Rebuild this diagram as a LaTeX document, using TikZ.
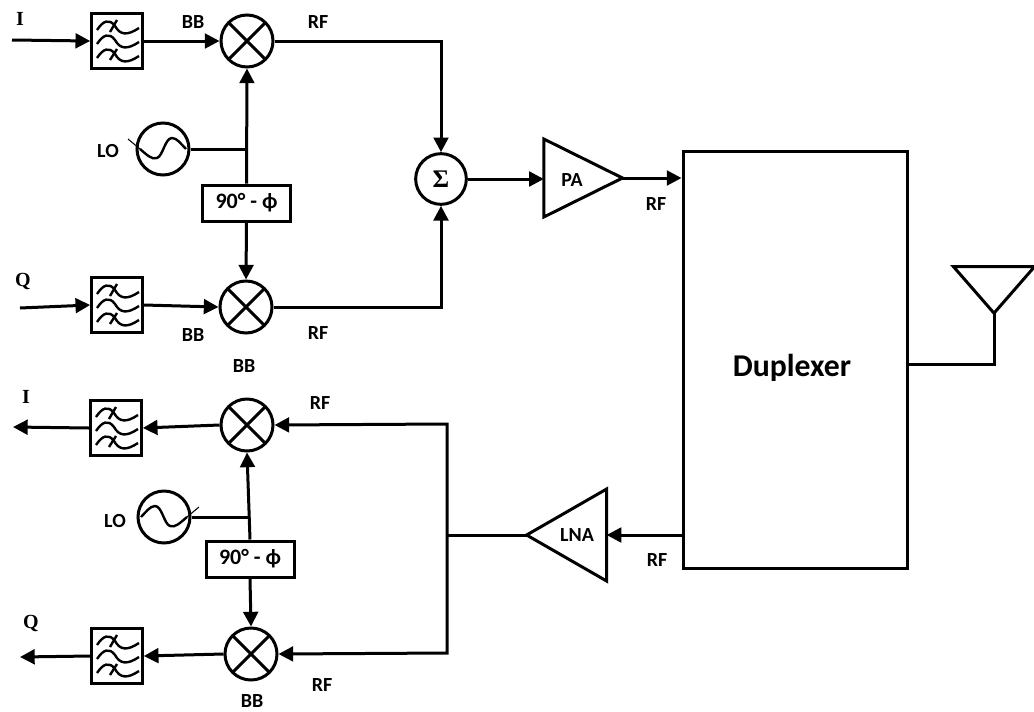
\documentclass[tikz,border=0pt]{standalone}
\usepackage{fontspec}
\setmainfont{Carlito}
\newfontfamily\serifbold{Liberation Serif}
\usetikzlibrary{arrows.meta,shapes.geometric}
% three waves and two ticks of a filter box
\newcommand{\filterwaves}[1]{
  \foreach \dy in {-14,0,14} {
    \draw[wave, shift={(#1)}, yshift=-\dy*0.75pt] (-20,3) .. controls (-14,-6) and (-8,-9) .. (-2,-1) .. controls (3,8) and (10,9) .. (22,1);
  }
  \draw[wave, shift={(#1)}] (0,-21) -- (-7,-9);
  \draw[wave, shift={(#1)}] (0,8) -- (-7,19);
}
\begin{document}
\begin{tikzpicture}[
  x=0.75pt, y=-0.75pt,
  every node/.style={font=\bfseries\fontsize{15}{17}\selectfont},
  line/.style={line width=2.25pt},
  arrow/.style={-{Triangle[length=11pt,width=11pt]}, line width=2.25pt},
  wave/.style={line width=1.8pt},
  block/.style={draw, line width=2.25pt, rectangle, inner sep=0pt},
  filterbox/.style={block, minimum width=38pt, minimum height=41pt},
  phasebox/.style={block, minimum width=66pt, minimum height=27pt, font=\bfseries\fontsize{16.5}{18}\selectfont},
  round/.style={draw, circle, line width=2.25pt, minimum size=39pt, inner sep=0pt},
  mixer/.style={round, path picture={
    \draw[line width=2.25pt] (path picture bounding box.south west) -- (path picture bounding box.north east);
    \draw[line width=2.25pt] (path picture bounding box.north west) -- (path picture bounding box.south east);}},
  amp/.style={draw, line width=2.25pt, isosceles triangle, isosceles triangle stretches, inner sep=0pt, outer sep=0pt},
  serif/.style={font=\serifbold\bfseries\fontsize{15}{17}\selectfont}
]
\useasboundingbox (0,0) rectangle (1034,711);
% transmit path
\node[filterbox] (filt1) at (117,41) {};
\node[filterbox] (filt2) at (117,305) {};
\node[mixer] (mix1) at (247,41) {};
\node[mixer] (mix2) at (246,307) {};
\node[round] (lo1) at (163,149) {};
\node[phasebox] (phase1) at (246.5,203) {90° - ϕ};
\node[round, minimum size=38pt, font=\serifbold\bfseries\fontsize{19}{21}\selectfont] (sum) at (441,179) {Σ};
\node[amp, minimum width=58.5pt, minimum height=59pt] (pa) at (568,178) {};
\node[block, minimum width=168pt, minimum height=313pt] (dup) at (795,360) {};
% receive path
\node[filterbox] (filt3) at (116,428) {};
\node[filterbox] (filt4) at (117,656) {};
\node[mixer] (mix3) at (247,425) {};
\node[mixer] (mix4) at (251,654) {};
\node[round] (lo2) at (164,517) {};
\node[phasebox] (phase2) at (250,559) {90° - ϕ};
\node[amp, minimum width=69pt, minimum height=60pt, shape border rotate=180] (lna) at (580,535) {};
\node[amp, shape border rotate=-90, minimum width=61pt, minimum height=35pt] (ant) at (994,285) {};
% free ends and bends
\coordinate (in1) at (12,40);
\coordinate (in2) at (20,308);
\coordinate (out1) at (13,427);
\coordinate (out2) at (20,657);
\coordinate (split) at (447,535);
\coordinate (bend1) at (441,41);
\coordinate (bend2) at (441,307);
\coordinate (bend3) at (447,424);
\coordinate (bend4) at (447,653);
\coordinate (bend5) at (ant.apex |- 0,364);
% text
\node[serif] (i1) at (20,19) {I};
\node[serif] (q1) at (23,281) {Q};
\node[serif] (i2) at (26,397) {I};
\node[serif] (q2) at (31,623) {Q};
\node (bb1) at (193,22) {BB};
\node (rf1) at (318,22) {RF};
\node (lolab1) at (108,151) {LO};
\node (bb2) at (193,335) {BB};
\node (rf2) at (318,333) {RF};
\node (bb3) at (244,366) {BB};
\node (rf3) at (320,403) {RF};
\node (lolab2) at (115,521) {LO};
\node (rf4) at (656,204) {RF};
\node (rf5) at (657,560) {RF};
\node (bb4) at (252,701) {BB};
\node (rf6) at (322,685) {RF};
\node (palab) at (572,180) {PA};
\node (lnalab) at (577,535) {LNA};
\node[font=\bfseries\fontsize{23.8}{26}\selectfont] (duplab) at (792,368) {Duplexer};
% filter and oscillator marks
\filterwaves{filt1}
\filterwaves{filt2}
\filterwaves{filt3}
\filterwaves{filt4}
\draw[line width=0.8pt, shift={(lo1)}] (-35,-10) -- (-23,0);
\draw[wave, shift={(lo1)}] (-23,0) .. controls (-16,6) and (-11,11) .. (-6,9) .. controls (0,7) and (2,-11) .. (9,-11) .. controls (14,-11) and (18,-5) .. (23,0);
\draw[line width=0.8pt, shift={(lo2)}, xscale=-1] (-35,-10) -- (-23,0);
\draw[wave, shift={(lo2)}, xscale=-1] (-23,0) .. controls (-16,6) and (-11,11) .. (-6,9) .. controls (0,7) and (2,-11) .. (9,-11) .. controls (14,-11) and (18,-5) .. (23,0);
% connectors
\draw[arrow] (in1) -- (filt1.west);
\draw[arrow] (filt1.east) -- (mix1.west);
\draw[arrow] (mix1.east) -- (bend1) -- (sum.north);
\draw[line] (lo1.east) -- (phase1.north |- lo1.east);
\draw[arrow] (phase1.north) -- (mix1.south);
\draw[arrow] (phase1.south) -- (mix2.north);
\draw[arrow] (in2) -- (filt2.west);
\draw[arrow] (filt2.east) -- (mix2.west);
\draw[arrow] (mix2.east) -- (bend2) -- (sum.south);
\draw[arrow] (sum.east) -- (pa.west |- sum.east);
\draw[arrow] (pa.apex) -- (dup.west |- pa.apex);
\draw[arrow] (dup.west |- lna.apex) -- (lna.east |- lna.apex);
\draw[line] (lna.apex) -- (split);
\draw[arrow] (split) -- (bend3) -- (mix3.east);
\draw[arrow] (split) -- (bend4) -- (mix4.east);
\draw[arrow] (mix3.west) -- (filt3.east);
\draw[arrow] (filt3.west) -- (out1);
\draw[arrow] (mix4.west) -- (filt4.east);
\draw[arrow] (filt4.west) -- (out2);
\draw[line] (lo2.east) -- (phase2.north |- lo2.east);
\draw[arrow] (phase2.north) -- (mix3.south);
\draw[arrow] (phase2.south) -- (mix4.north);
\draw[line] (ant.apex) -- (bend5) -- (dup.east |- bend5);
\end{tikzpicture}
\end{document}
